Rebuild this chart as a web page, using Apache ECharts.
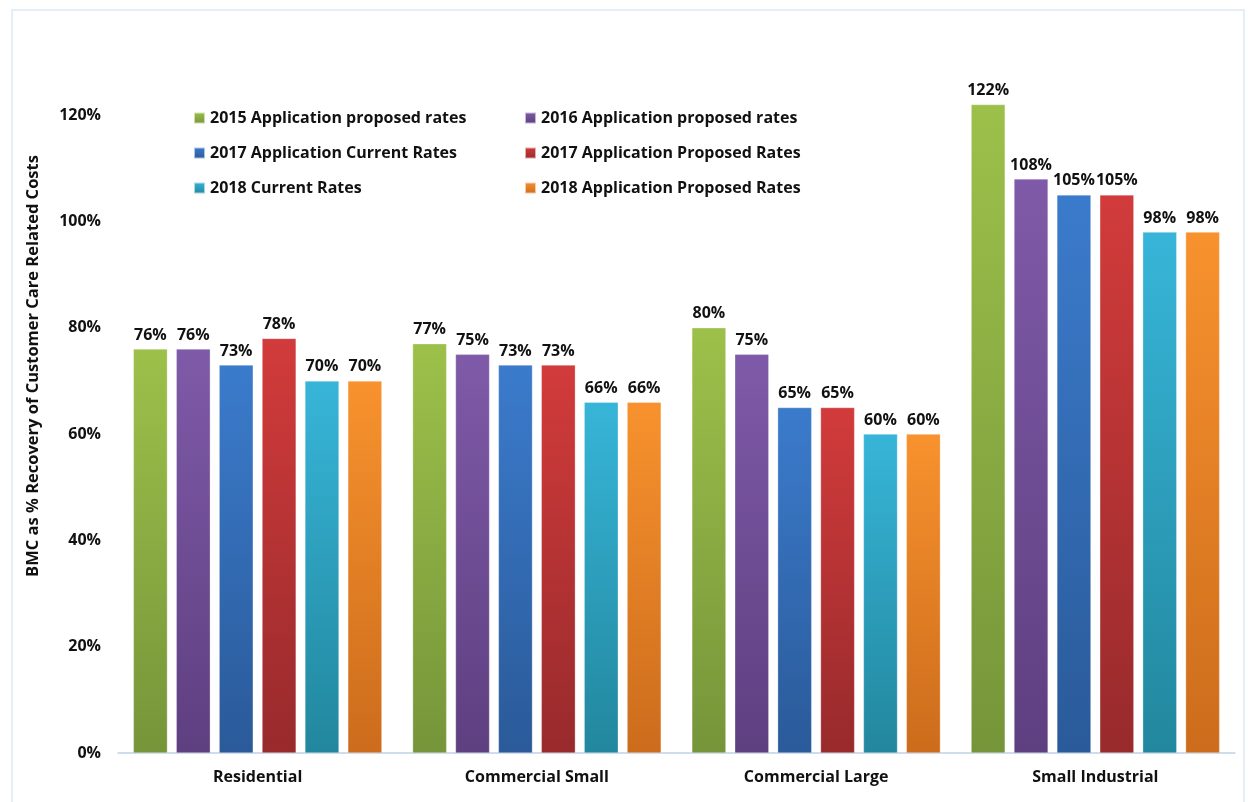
<!DOCTYPE html>
<html>
<head>
<meta charset="utf-8">
<title>BMC Recovery of Customer Care Related Costs</title>
<script src="https://cdn.jsdelivr.net/npm/echarts@6/dist/echarts.min.js"></script>
<style>
  html, body { margin: 0; padding: 0; background: #ffffff; }
  #chart { width: 1248px; height: 802px; }
</style>
</head>
<body>
<div id="chart"></div>
<script>
// Rate classes along the x axis
const categories = ['Residential', 'Commercial Small', 'Commercial Large', 'Small Industrial'];

// BMC recovery (%) per rate class for each rate case
const rates2015AppProposed = [76, 77, 80, 122];
const rates2016AppProposed = [76, 75, 75, 108];
const rates2017AppCurrent  = [73, 73, 65, 105];
const rates2017AppProposed = [78, 73, 65, 105];
const rates2018Current     = [70, 66, 60, 98];
const rates2018AppProposed = [70, 66, 60, 98];

const seriesNames = [
  '2015 Application proposed rates',
  '2016 Application proposed rates',
  '2017 Application Current Rates',
  '2017 Application Proposed Rates',
  '2018 Current Rates',
  '2018 Application Proposed Rates'
];
const seriesValues = [
  rates2015AppProposed, rates2016AppProposed, rates2017AppCurrent,
  rates2017AppProposed, rates2018Current, rates2018AppProposed
];

// y axis tick values (percent)
const yTicks = [0, 20, 40, 60, 80, 100, 120];

// top / bottom shades for each bar colour
const palette = [
  ['#9dc04a', '#76953a'],
  ['#7f5aa8', '#5e3f80'],
  ['#3b7bcc', '#2a5a99'],
  ['#d23b3b', '#982a2c'],
  ['#37b5d8', '#22879e'],
  ['#f8922e', '#cc6c1c']
];

const FONT = '"Open Sans", Lato, sans-serif';

const chart = echarts.init(document.getElementById('chart'), null, { renderer: 'canvas' });

const series = seriesNames.map((name, i) => ({
  name,
  type: 'bar',
  data: seriesValues[i],
  barGap: '26%',
  barCategoryGap: '11%',
  itemStyle: {
    color: new echarts.graphic.LinearGradient(0, 0, 0, 1, [
      { offset: 0, color: palette[i][0] },
      { offset: 1, color: palette[i][1] }
    ]),
    borderColor: 'rgba(255,255,255,0.6)',
    borderWidth: 0.5
  },
  label: {
    show: true,
    position: 'top',
    distance: 6,
    formatter: '{c}%',
    color: '#111',
    fontFamily: FONT,
    fontWeight: 'bold',
    fontSize: 16
  }
}));

const legendBase = {
  orient: 'vertical',
  top: 107,
  padding: 0,
  itemWidth: 11,
  itemHeight: 11,
  itemGap: 13,
  icon: 'rect',
  selectedMode: false,
  textStyle: { fontFamily: FONT, fontWeight: 'bold', fontSize: 16, color: '#111', lineHeight: 22 }
};

chart.setOption({
  animation: false,
  backgroundColor: '#ffffff',
  color: palette.map(p => p[0]),
  graphic: [
    {
      type: 'rect',
      shape: { x: 12, y: 10, width: 1232, height: 800 },
      style: { fill: 'none', stroke: '#dde7f3', lineWidth: 1.5 },
      silent: true
    },
    {
      type: 'text',
      x: 33,
      y: 366,
      rotation: Math.PI / 2,
      style: {
        text: 'BMC as % Recovery of Customer Care Related Costs',
        fontFamily: FONT,
        fontWeight: 'bold',
        fontSize: 16.5,
        fill: '#111',
        align: 'center',
        verticalAlign: 'middle'
      }
    }
  ],
  legend: [
    Object.assign({}, legendBase, { left: 193, data: [seriesNames[0], seriesNames[2], seriesNames[4]] }),
    Object.assign({}, legendBase, { left: 524, data: [seriesNames[1], seriesNames[3], seriesNames[5]] })
  ],
  grid: { left: 118, right: 13, top: 62, bottom: 49, containLabel: false },
  xAxis: {
    type: 'category',
    data: categories,
    axisTick: { show: false },
    axisLine: { lineStyle: { color: '#bfd1e6', width: 1.5 } },
    axisLabel: {
      margin: 16,
      color: '#111',
      fontFamily: FONT,
      fontWeight: 'bold',
      fontSize: 16
    }
  },
  yAxis: {
    type: 'value',
    min: 0,
    max: 130,
    interval: 20,
    splitLine: { show: false },
    axisLine: { show: false },
    axisTick: { show: false },
    axisLabel: {
      margin: 17,
      color: '#111',
      fontFamily: FONT,
      fontWeight: 'bold',
      fontSize: 16,
      showMaxLabel: false,
      formatter: v => (yTicks.indexOf(v) >= 0 ? v + '%' : '')
    }
  },
  series
});
</script>
</body>
</html>
